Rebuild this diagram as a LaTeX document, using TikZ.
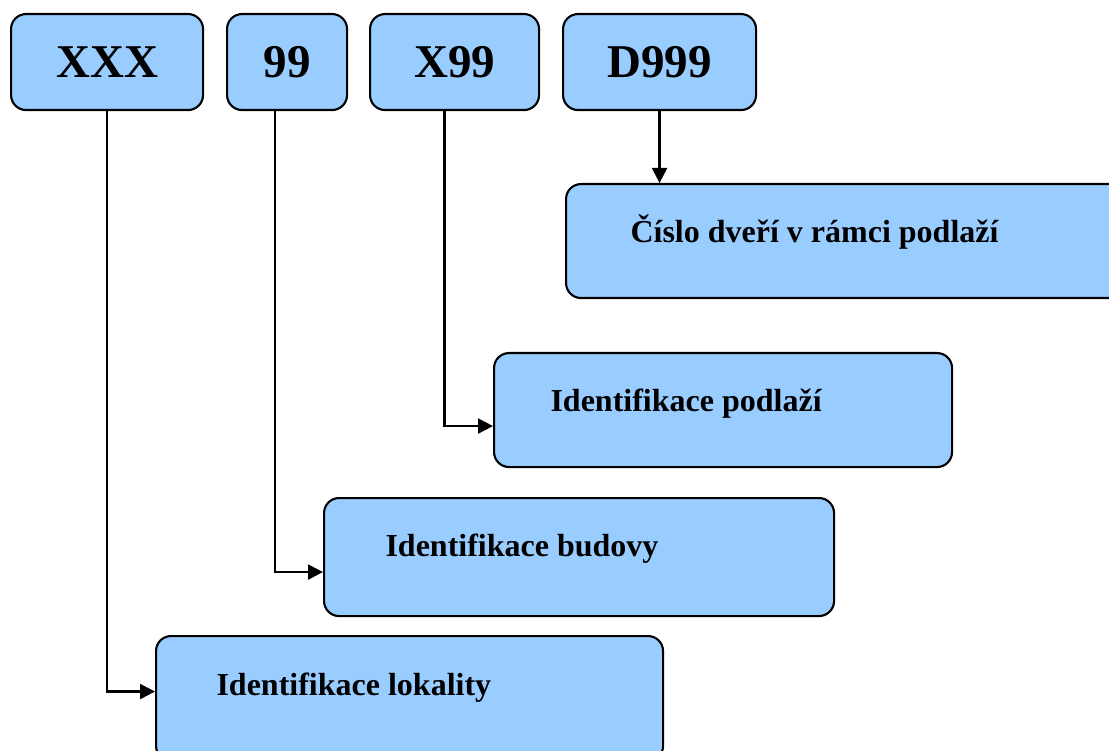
\documentclass[tikz,border=0pt]{standalone}
\usepackage{fontspec}
\setmainfont{Liberation Serif}
\usetikzlibrary{arrows.meta}

\definecolor{boxblue}{HTML}{99CCFF}

\tikzset{
  code/.style={draw=black, fill=boxblue, line width=2.1pt, rounded corners=15pt,
    inner sep=0pt, anchor=north west},
  codetext/.style={font=\fontsize{47}{47}\selectfont\bfseries},
  desctext/.style={anchor=base west, font=\fontsize{32}{32}\selectfont\bfseries},
  link/.style={line width=2.2pt, -{Triangle[length=15pt,width=15pt]}}
}

\begin{document}
\begin{tikzpicture}[x=1pt,y=-1pt]

\useasboundingbox (0,0) rectangle (1109,751);

% the four parts of the code
\node [code, codetext, minimum width=192pt, minimum height=96pt] (xxx) at (10,13) {XXX};
\node [code, codetext, minimum width=120pt, minimum height=96pt] (b99) at (226,13) {99};
\node [code, codetext, minimum width=169pt, minimum height=96pt] (x99) at (369,13) {X99};
\node [code, codetext, minimum width=193pt, minimum height=96pt] (d999) at (562,13) {D999};

% what they mean
\node [code, minimum width=560pt, minimum height=114pt] (cislo) at (565,183) {};
\node [code, minimum width=458pt, minimum height=114pt] (podl) at (493,352) {};
\node [code, minimum width=510pt, minimum height=118pt] (bud) at (323,497) {};
\node [code, minimum width=507pt, minimum height=125pt] (lok) at (155,635) {};

\node [desctext] (tcislo) at (627,243) {Číslo dveří v rámci podlaží};
\node [desctext] (tpodl) at (547,411) {Identifikace podlaží};
\node [desctext] (tbud) at (382,556) {Identifikace budovy};
\node [desctext] (tlok) at (213,695) {Identifikace lokality};

\draw [link] (xxx.south) |- ([yshift=7pt]lok.west);
\draw [link] ([xshift=-12pt]b99.south) |- ([yshift=-15pt]bud.west);
\draw [link] ([xshift=-10pt]x99.south) |- ([yshift=-16pt]podl.west);
\draw [link] (d999.south) -- (d999.south |- cislo.north);

\end{tikzpicture}
\end{document}
